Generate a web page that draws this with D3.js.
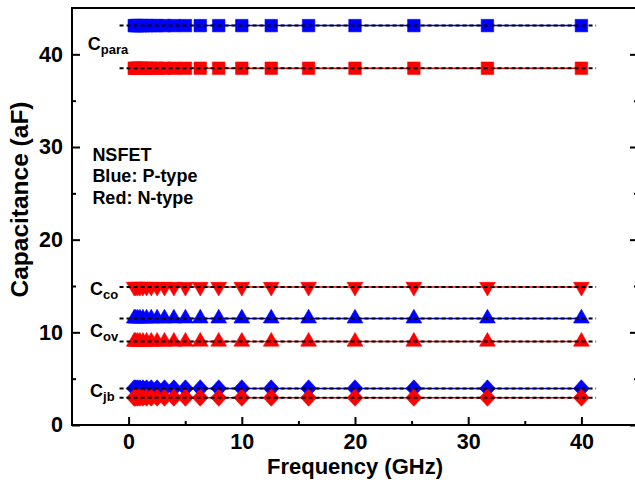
<!DOCTYPE html>
<html>
<head>
<meta charset="utf-8">
<script src="https://cdn.jsdelivr.net/npm/d3@7"></script>
<style>
  html, body { margin: 0; padding: 0; background: #fff; }
  svg { display: block; }
  text { font-family: "Liberation Sans", Arial, Helvetica, sans-serif; font-weight: bold; fill: #000; }
</style>
</head>
<body>
<svg id="chart" width="635" height="482"></svg>
<script>
// Sweep frequencies (GHz), ten points per decade
const freqs = [0.5, 0.63, 0.8, 1.0, 1.26, 1.59, 2.0, 2.52, 3.17, 4.0,
               5.02, 6.33, 7.96, 10.0, 12.6, 15.9, 20.0, 25.2, 31.7, 40.0];

// Extracted capacitances (aF)
const cParaP = [43.1, 43.1, 43.1, 43.1, 43.1, 43.1, 43.1, 43.1, 43.1, 43.1,
                43.1, 43.1, 43.1, 43.1, 43.1, 43.1, 43.1, 43.1, 43.1, 43.1];
const cParaN = [38.5, 38.5, 38.5, 38.5, 38.5, 38.5, 38.5, 38.5, 38.5, 38.5,
                38.5, 38.5, 38.5, 38.5, 38.5, 38.5, 38.5, 38.5, 38.5, 38.5];
const cCoN   = [14.9, 14.9, 14.9, 14.9, 14.9, 14.9, 14.9, 14.9, 14.9, 14.9,
                14.9, 14.9, 14.9, 14.9, 14.9, 14.9, 14.9, 14.9, 14.9, 14.9];
const cOvP   = [11.5, 11.5, 11.5, 11.5, 11.5, 11.5, 11.5, 11.5, 11.5, 11.5,
                11.5, 11.5, 11.5, 11.5, 11.5, 11.5, 11.5, 11.5, 11.5, 11.5];
const cOvN   = [9.0, 9.0, 9.0, 9.0, 9.0, 9.0, 9.0, 9.0, 9.0, 9.0,
                9.0, 9.0, 9.0, 9.0, 9.0, 9.0, 9.0, 9.0, 9.0, 9.0];
const cJbP   = [3.95, 3.95, 3.95, 3.95, 3.95, 3.95, 3.95, 3.95, 3.95, 3.95,
                3.95, 3.95, 3.95, 3.95, 3.95, 3.95, 3.95, 3.95, 3.95, 3.95];
const cJbN   = [2.95, 2.95, 2.95, 2.95, 2.95, 2.95, 2.95, 2.95, 2.95, 2.95,
                2.95, 2.95, 2.95, 2.95, 2.95, 2.95, 2.95, 2.95, 2.95, 2.95];

// Frequency span covered by the dashed mean lines (GHz)
const meanSpan = [-0.8, 41.3];

// Axis ticks
const xMajor = [0, 10, 20, 30, 40];
const xMinor = [5, 15, 25, 35];
const yMajor = [0, 10, 20, 30, 40];
const yMinor = [5, 15, 25, 35];

const BLUE = "#0000ff", RED = "#ff0000";

// Series: P-type (blue) drawn first, N-type (red) on top
const series = [
  { values: cParaP, color: BLUE, shape: "square" },
  { values: cOvP,   color: BLUE, shape: "up" },
  { values: cJbP,   color: BLUE, shape: "diamond" },
  { values: cParaN, color: RED,  shape: "square" },
  { values: cCoN,   color: RED,  shape: "down" },
  { values: cOvN,   color: RED,  shape: "up" },
  { values: cJbN,   color: RED,  shape: "diamond" }
];

const svg = d3.select("#chart");
const plotL = 72, plotR = 638, plotT = 8, plotB = 425;

const x = d3.scaleLinear().domain([-5, 45]).range([plotL, plotR]);
const y = d3.scaleLinear().domain([0, 45]).range([plotB, plotT]);

// Marker shapes
const triArea = 108;
const shapes = {
  square: d3.symbol().type(d3.symbolSquare).size(156)(),
  up: d3.symbol().type(d3.symbolTriangle).size(triArea)(),
  down: d3.symbol().type(d3.symbolTriangle).size(triArea)(),
  diamond: "M0,-8.6L7.9,0L0,8.6L-7.9,0Z"
};

// Connecting lines
const line = d3.line().x(d => x(d[0])).y(d => y(d[1]));
const gLines = svg.append("g");
series.forEach(s => {
  gLines.append("path")
    .attr("d", line(freqs.map((f, i) => [f, s.values[i]])))
    .attr("fill", "none")
    .attr("stroke", s.color)
    .attr("stroke-width", 1.5);
});

// Markers
const gMarks = svg.append("g");
series.forEach(s => {
  gMarks.append("g").selectAll("path")
    .data(freqs.map((f, i) => [f, s.values[i]]))
    .join("path")
    .attr("d", shapes[s.shape])
    .attr("transform", d => `translate(${x(d[0])},${y(d[1])})` + (s.shape === "down" ? " rotate(180)" : ""))
    .attr("fill", s.color)
    .attr("stroke", s.color)
    .attr("stroke-width", 0.6);
});

// Dashed mean lines over the markers
const gMean = svg.append("g");
series.forEach(s => {
  const m = d3.mean(s.values);
  gMean.append("path")
    .attr("d", line([[meanSpan[0], m], [meanSpan[1], m]]))
    .attr("fill", "none")
    .attr("stroke", "#000")
    .attr("stroke-width", 2)
    .attr("stroke-dasharray", "4,3");
});

// Axes (ticks pointing inward)
function styleAxis(g) {
  g.selectAll("path.domain").remove();
  g.selectAll(".tick line").attr("stroke", "#000").attr("stroke-width", 2);
  g.selectAll(".tick text")
    .style("font-family", '"Liberation Sans", Arial, sans-serif')
    .style("font-weight", "bold")
    .style("font-size", "21.5px")
    .attr("fill", "#000");
}

svg.append("g").attr("transform", `translate(0,${plotB})`)
  .call(d3.axisBottom(x).tickValues(xMajor).tickSize(-8).tickPadding(9).tickFormat(d3.format("d")))
  .call(styleAxis);
svg.append("g").attr("transform", `translate(0,${plotB})`)
  .call(d3.axisBottom(x).tickValues(xMinor).tickSize(-4).tickFormat(""))
  .call(styleAxis);

svg.append("g").attr("transform", `translate(${plotL},0)`)
  .call(d3.axisLeft(y).tickValues(yMajor).tickSize(-8).tickPadding(9).tickFormat(d3.format("d")))
  .call(styleAxis);
svg.append("g").attr("transform", `translate(${plotL},0)`)
  .call(d3.axisLeft(y).tickValues(yMinor).tickSize(-4).tickFormat(""))
  .call(styleAxis);

svg.append("g").attr("transform", `translate(${plotR},0)`)
  .call(d3.axisRight(y).tickValues(yMajor).tickSize(-8).tickFormat(""))
  .call(styleAxis);
svg.append("g").attr("transform", `translate(${plotR},0)`)
  .call(d3.axisRight(y).tickValues(yMinor).tickSize(-4).tickFormat(""))
  .call(styleAxis);

// Frame
svg.append("rect")
  .attr("x", plotL).attr("y", plotT)
  .attr("width", plotR - plotL).attr("height", plotB - plotT)
  .attr("fill", "none").attr("stroke", "#000").attr("stroke-width", 2);

// Axis titles
svg.append("text")
  .attr("x", (plotL + plotR) / 2).attr("y", 474)
  .attr("text-anchor", "middle")
  .style("font-size", "22px")
  .text("Frequency (GHz)");

svg.append("text")
  .attr("transform", `translate(28,${(plotT + plotB) / 2 - 17}) rotate(-90)`)
  .attr("text-anchor", "middle")
  .style("font-size", "24.5px")
  .text("Capacitance (aF)");

// Component labels
const compLabels = [
  { main: "C", sub: "para", fx: -3.6, cy: 40.47 },
  { main: "C", sub: "co",   fx: -3.4, cy: 14.03 },
  { main: "C", sub: "ov",   fx: -3.4, cy: 9.5 },
  { main: "C", sub: "jb",   fx: -3.4, cy: 2.97 }
];
compLabels.forEach(l => {
  const t = svg.append("text").attr("x", x(l.fx)).attr("y", y(l.cy)).style("font-size", "18px");
  t.append("tspan").text(l.main);
  t.append("tspan").attr("dy", 4).style("font-size", "13px").text(l.sub);
});

// Legend note
const note = ["NSFET", "Blue: P-type", "Red: N-type"];
svg.append("g").selectAll("text")
  .data(note)
  .join("text")
  .attr("x", x(-3.2))
  .attr("y", (d, i) => 160.5 + i * 21.8)
  .style("font-size", "18px")
  .text(d => d);
</script>
</body>
</html>
